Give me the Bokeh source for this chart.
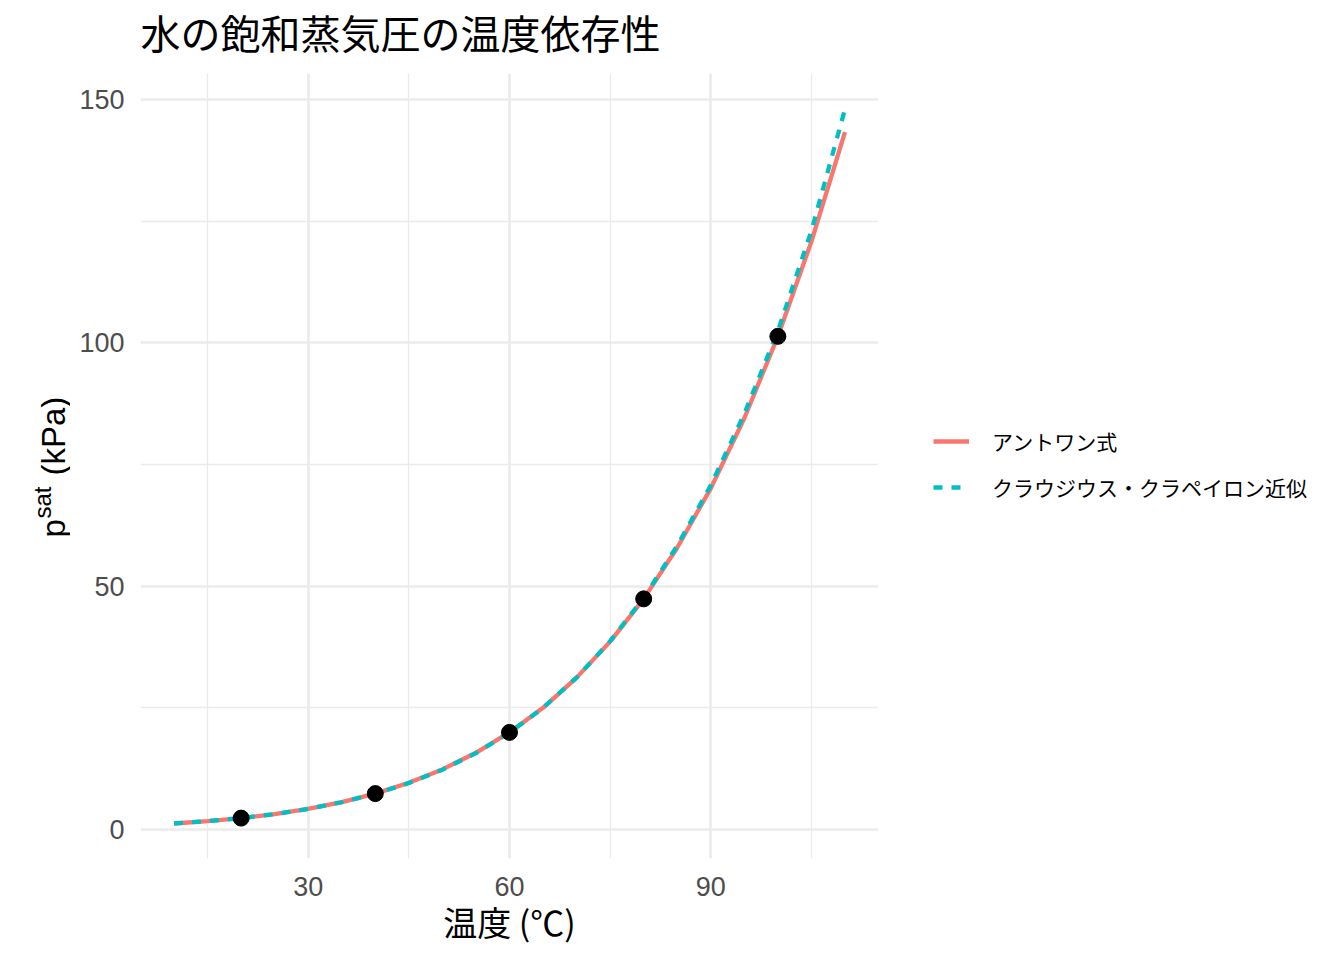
import numpy as np
from bokeh.plotting import figure
from bokeh.layouts import row, column
from bokeh.models import Range1d, FixedTicker, Legend, LegendItem, Label
from bokeh.embed import file_html
from bokeh.resources import INLINE

# ---- data ----
temp_c = [10, 15, 20, 25, 30, 35, 40, 45, 50, 55, 60,
          65, 70, 75, 80, 85, 90, 95, 100, 105, 110]
antoine_kpa = [1.23, 1.71, 2.34, 3.17, 4.25, 5.63, 7.38, 9.59, 12.35, 15.76, 19.95,
               25.0, 31.2, 38.6, 47.4, 57.9, 70.1, 84.5, 101.3, 120.8, 143.3]
clausius_kpa = [1.24, 1.72, 2.34, 3.16, 4.23, 5.60, 7.34, 9.54, 12.29, 15.70, 19.90,
                25.0, 31.2, 38.7, 47.6, 58.3, 70.7, 85.4, 102.4, 123.0, 148.0]
obs_temp_c = [20, 40, 60, 80, 100]
obs_kpa = [2.34, 7.38, 19.95, 47.39, 101.33]

x_ticks = [30, 60, 90]
x_minor_ticks = [15, 45, 75, 105]
y_ticks = [0, 50, 100, 150]
y_minor_ticks = [25, 75, 125]

series_names = ["アントワン式", "クラウジウス・クラペイロン近似"]
series_colors = ["#F8766D", "#00BFC4"]
title_text = "水の飽和蒸気圧の温度依存性"
x_label = "温度 (℃)"
y_label_main = "p"
y_label_sup = "sat"
y_label_unit = "(kPa)"

JP = "Noto Sans CJK JP"
LAT = "Liberation Sans"
PAGE_W = 1328
PAGE_H = 950
TOP_H = 73            # title strip height = top of the plotting frame
FRAME_BOTTOM = 858
ROW_H = PAGE_H - TOP_H
BOTTOM_B = PAGE_H - FRAME_BOTTOM
LEFT_W = 70
MAIN_RIGHT = 878
LEG_W = PAGE_W - MAIN_RIGHT
LINE_W = 4.3
DASH = "9 9"


def blank_fig(w, h, y0, y1, top=0, bottom=0):
    f = figure(width=w, height=h,
               x_range=Range1d(0, w), y_range=Range1d(y0, y1),
               output_backend="svg", toolbar_location=None,
               x_axis_location=None, y_axis_location=None,
               min_border=0, min_border_left=0, min_border_right=0,
               min_border_top=top, min_border_bottom=bottom)
    f.outline_line_color = None
    f.grid.visible = False
    f.background_fill_color = "white"
    f.border_fill_color = "white"
    return f


# ---- title strip (data units = picture pixels, y measured up from strip bottom) ----
ft = blank_fig(PAGE_W, TOP_H, 0, TOP_H)
ft.add_layout(Label(x=140, y=TOP_H - 31, text=title_text,
                    text_font=JP, text_font_size="40px", text_color="black",
                    text_align="left", text_baseline="middle"))

# strips beside the frame: data y = PAGE_H - picture row
Y0, Y1 = PAGE_H - FRAME_BOTTOM, PAGE_H - TOP_H

# ---- left strip: y-axis title p^sat (kPa) ----
fl = blank_fig(LEFT_W, ROW_H, Y0, Y1, bottom=BOTTOM_B)
ang = np.pi / 2
fl.add_layout(Label(x=53, y=PAGE_H - 537, text=y_label_main, angle=ang,
                    text_font=LAT, text_font_size="33px", text_color="black",
                    text_align="left", text_baseline="alphabetic"))
fl.add_layout(Label(x=42, y=PAGE_H - 518, text=y_label_sup, angle=ang,
                    text_font=LAT, text_font_size="24px", text_color="black",
                    text_align="left", text_baseline="alphabetic"))
fl.add_layout(Label(x=53, y=PAGE_H - 475, text=y_label_unit, angle=ang,
                    text_font=LAT, text_font_size="33px", text_color="black",
                    text_align="left", text_baseline="alphabetic"))

# ---- main panel ----
p = figure(width=MAIN_RIGHT - LEFT_W, height=ROW_H,
           x_range=Range1d(5, 115), y_range=Range1d(-5.96, 155.34),
           output_backend="svg", toolbar_location=None,
           min_border_left=140 - LEFT_W, min_border_right=0,
           min_border_top=0, min_border_bottom=BOTTOM_B)
p.outline_line_color = None
p.background_fill_color = "white"
p.border_fill_color = "white"

p.xaxis.ticker = FixedTicker(ticks=x_ticks, minor_ticks=x_minor_ticks)
p.yaxis.ticker = FixedTicker(ticks=y_ticks, minor_ticks=y_minor_ticks)

for ax in (p.xaxis[0], p.yaxis[0]):
    ax.axis_line_color = None
    ax.major_tick_line_color = None
    ax.minor_tick_line_color = None
    ax.major_tick_out = 0
    ax.major_tick_in = 0
    ax.minor_tick_out = 0
    ax.minor_tick_in = 0
    ax.major_label_text_font = LAT
    ax.major_label_text_font_size = "27px"
    ax.major_label_text_color = "#4D4D4D"

p.xaxis.major_label_standoff = 18
p.yaxis.major_label_standoff = 16
p.xaxis.axis_label = x_label
p.xaxis.axis_label_text_font = JP
p.xaxis.axis_label_text_font_size = "34px"
p.xaxis.axis_label_text_font_style = "normal"
p.xaxis.axis_label_text_color = "black"
p.xaxis.axis_label_standoff = -2

for g in (p.xgrid[0], p.ygrid[0]):
    g.grid_line_color = "#EBEBEB"
    g.grid_line_width = 2.7
    g.minor_grid_line_color = "#EBEBEB"
    g.minor_grid_line_width = 1.3

p.line(temp_c, antoine_kpa, line_color=series_colors[0], line_width=LINE_W)
p.line(temp_c, clausius_kpa, line_color=series_colors[1], line_width=LINE_W,
       line_dash=DASH)
p.scatter(obs_temp_c, obs_kpa, size=16, fill_color="black", line_color="black")

# ---- right strip: legend ----
fr = blank_fig(LEG_W, ROW_H, Y0, Y1, bottom=BOTTOM_B)
# stand-in renderers (outside the strip's visible range) that carry the styles
g1 = fr.line(x=[-20, -10], y=[-20, -20], line_color=series_colors[0],
             line_width=LINE_W)
g2 = fr.line(x=[-20, -10], y=[-20, -20], line_color=series_colors[1],
             line_width=LINE_W, line_dash=DASH)
legend = Legend(items=[LegendItem(label=series_names[0], renderers=[g1]),
                       LegendItem(label=series_names[1], renderers=[g2])],
                location=(55, FRAME_BOTTOM - 517 + 12))
legend.label_text_font = JP
legend.label_text_font_size = "21px"
legend.label_text_color = "black"
legend.glyph_width = 36
legend.glyph_height = 36
legend.label_height = 36
legend.label_standoff = 23
legend.spacing = 10
legend.padding = 10
legend.margin = 0
legend.border_line_color = None
legend.background_fill_alpha = 0
fr.add_layout(legend)

layout = column(ft, row(fl, p, fr))
open("out.html", "w").write(file_html(layout, INLINE))
